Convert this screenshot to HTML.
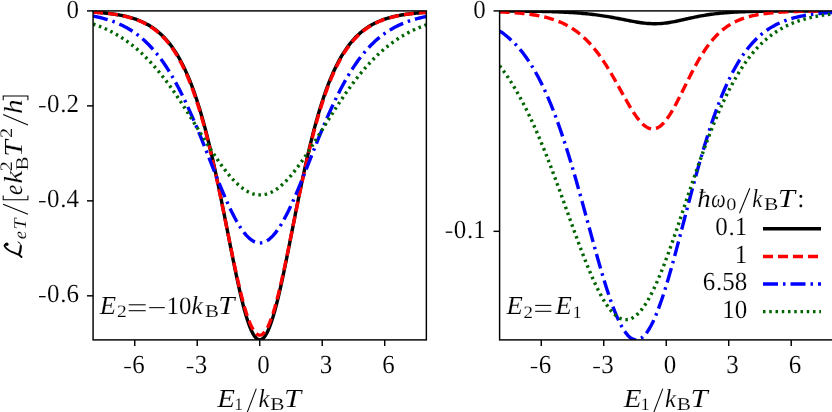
<!DOCTYPE html>
<html><head><meta charset="utf-8"><title>plot</title>
<style>html,body{margin:0;padding:0;background:#fff}svg{display:block;will-change:transform}text{font-family:"Liberation Serif",serif;fill:#000;text-rendering:geometricPrecision;stroke:#fff;stroke-width:0.14px}.i{font-style:italic}</style></head>
<body>
<svg width="832" height="412" viewBox="0 0 832 412">
<rect width="832" height="412" fill="#fff"/>
<defs><clipPath id="cl"><rect x="93.08" y="10.90" width="333.28" height="329.00"/></clipPath><clipPath id="cr"><rect x="499.60" y="10.90" width="333.28" height="329.00"/></clipPath></defs>
<g clip-path="url(#cl)" fill="none" stroke-width="3.40" stroke-linejoin="round">
<path d="M93.08,12.10 L94.75,12.20 L96.41,12.32 L98.08,12.44 L99.75,12.57 L101.41,12.71 L103.08,12.86 L104.74,13.02 L106.41,13.19 L108.08,13.37 L109.74,13.57 L111.41,13.78 L113.08,14.01 L114.74,14.25 L116.41,14.51 L118.08,14.79 L119.74,15.08 L121.41,15.40 L123.08,15.74 L124.74,16.11 L126.41,16.49 L128.07,16.91 L129.74,17.36 L131.41,17.83 L133.07,18.34 L134.74,18.89 L136.41,19.47 L138.07,20.09 L139.74,20.75 L141.41,21.46 L143.07,22.22 L144.74,23.02 L146.40,23.89 L148.07,24.80 L149.74,25.78 L151.40,26.83 L153.07,27.94 L154.74,29.13 L156.40,30.39 L158.07,31.74 L159.74,33.17 L161.40,34.69 L163.07,36.31 L164.74,38.04 L166.40,39.87 L168.07,41.81 L169.73,43.88 L171.40,46.07 L173.07,48.39 L174.73,50.85 L176.40,53.46 L178.07,56.22 L179.73,59.15 L181.40,62.24 L183.07,65.51 L184.73,68.95 L186.40,72.59 L188.06,76.43 L189.73,80.46 L191.40,84.71 L193.06,89.18 L194.73,93.87 L196.40,98.78 L198.06,103.93 L199.73,109.32 L201.40,114.95 L203.06,120.82 L204.73,126.94 L206.40,133.29 L208.06,139.89 L209.73,146.73 L211.39,153.80 L213.06,161.09 L214.73,168.60 L216.39,176.30 L218.06,184.19 L219.73,192.25 L221.39,200.46 L223.06,208.78 L224.73,217.20 L226.39,225.67 L228.06,234.18 L229.72,242.67 L231.39,251.11 L233.06,259.45 L234.72,267.65 L236.39,275.65 L238.06,283.41 L239.72,290.88 L241.39,298.00 L243.06,304.72 L244.72,310.99 L246.39,316.75 L248.06,321.97 L249.72,326.59 L251.39,330.57 L253.05,333.88 L254.72,336.49 L256.39,338.38 L258.05,339.52 L259.72,339.90 L261.39,339.53 L263.05,338.40 L264.72,336.52 L266.39,333.92 L268.05,330.62 L269.72,326.64 L271.38,322.03 L273.05,316.83 L274.72,311.07 L276.38,304.81 L278.05,298.10 L279.72,290.99 L281.38,283.53 L283.05,275.77 L284.72,267.77 L286.38,259.58 L288.05,251.25 L289.72,242.81 L291.38,234.33 L293.05,225.83 L294.71,217.36 L296.38,208.95 L298.05,200.63 L299.71,192.43 L301.38,184.38 L303.05,176.49 L304.71,168.78 L306.38,161.28 L308.05,153.99 L309.71,146.93 L311.38,140.09 L313.04,133.50 L314.71,127.14 L316.38,121.03 L318.04,115.16 L319.71,109.53 L321.38,104.15 L323.04,99.00 L324.71,94.08 L326.38,89.40 L328.04,84.93 L329.71,80.69 L331.38,76.65 L333.04,72.81 L334.71,69.18 L336.37,65.73 L338.04,62.47 L339.71,59.38 L341.37,56.45 L343.04,53.69 L344.71,51.08 L346.37,48.62 L348.04,46.30 L349.71,44.11 L351.37,42.04 L353.04,40.10 L354.70,38.27 L356.37,36.55 L358.04,34.93 L359.70,33.40 L361.37,31.97 L363.04,30.63 L364.70,29.36 L366.37,28.18 L368.04,27.06 L369.70,26.02 L371.37,25.04 L373.04,24.12 L374.70,23.26 L376.37,22.45 L378.03,21.70 L379.70,20.99 L381.37,20.33 L383.03,19.70 L384.70,19.12 L386.37,18.58 L388.03,18.07 L389.70,17.59 L391.37,17.15 L393.03,16.73 L394.70,16.34 L396.36,15.98 L398.03,15.64 L399.70,15.32 L401.36,15.02 L403.03,14.74 L404.70,14.49 L406.36,14.24 L408.03,14.02 L409.70,13.81 L411.36,13.61 L413.03,13.42 L414.70,13.25 L416.36,13.09 L418.03,12.94 L419.69,12.80 L421.36,12.67 L423.03,12.55 L424.69,12.44 L426.36,12.33" stroke="#000000"/>
<path d="M93.08,12.14 L94.75,12.24 L96.41,12.36 L98.08,12.49 L99.75,12.62 L101.41,12.76 L103.08,12.92 L104.74,13.08 L106.41,13.26 L108.08,13.45 L109.74,13.65 L111.41,13.87 L113.08,14.10 L114.74,14.35 L116.41,14.62 L118.08,14.91 L119.74,15.21 L121.41,15.54 L123.08,15.89 L124.74,16.26 L126.41,16.66 L128.07,17.09 L129.74,17.55 L131.41,18.04 L133.07,18.56 L134.74,19.12 L136.41,19.72 L138.07,20.36 L139.74,21.04 L141.41,21.77 L143.07,22.54 L144.74,23.37 L146.40,24.25 L148.07,25.20 L149.74,26.20 L151.40,27.27 L153.07,28.41 L154.74,29.62 L156.40,30.92 L158.07,32.29 L159.74,33.76 L161.40,35.32 L163.07,36.97 L164.74,38.73 L166.40,40.60 L168.07,42.58 L169.73,44.69 L171.40,46.92 L173.07,49.28 L174.73,51.79 L176.40,54.45 L178.07,57.25 L179.73,60.22 L181.40,63.36 L183.07,66.67 L184.73,70.16 L186.40,73.85 L188.06,77.72 L189.73,81.80 L191.40,86.09 L193.06,90.59 L194.73,95.31 L196.40,100.26 L198.06,105.43 L199.73,110.83 L201.40,116.47 L203.06,122.34 L204.73,128.45 L206.40,134.79 L208.06,141.36 L209.73,148.15 L211.39,155.17 L213.06,162.39 L214.73,169.81 L216.39,177.41 L218.06,185.18 L219.73,193.09 L221.39,201.14 L223.06,209.28 L224.73,217.49 L226.39,225.75 L228.06,234.01 L229.72,242.24 L231.39,250.41 L233.06,258.46 L234.72,266.36 L236.39,274.05 L238.06,281.49 L239.72,288.64 L241.39,295.44 L243.06,301.85 L244.72,307.81 L246.39,313.29 L248.06,318.24 L249.72,322.61 L251.39,326.38 L253.05,329.52 L254.72,331.98 L256.39,333.76 L258.05,334.84 L259.72,335.20 L261.39,334.85 L263.05,333.78 L264.72,332.01 L266.39,329.55 L268.05,326.43 L269.72,322.67 L271.38,318.30 L273.05,313.36 L274.72,307.90 L276.38,301.94 L278.05,295.54 L279.72,288.75 L281.38,281.61 L283.05,274.17 L284.72,266.49 L286.38,258.60 L288.05,250.55 L289.72,242.39 L291.38,234.17 L293.05,225.91 L294.71,217.66 L296.38,209.45 L298.05,201.31 L299.71,193.27 L301.38,185.36 L303.05,177.60 L304.71,170.00 L306.38,162.58 L308.05,155.37 L309.71,148.36 L311.38,141.57 L313.04,135.00 L314.71,128.66 L316.38,122.56 L318.04,116.69 L319.71,111.05 L321.38,105.65 L323.04,100.48 L324.71,95.54 L326.38,90.82 L328.04,86.32 L329.71,82.03 L331.38,77.95 L333.04,74.08 L334.71,70.40 L336.37,66.90 L338.04,63.59 L339.71,60.46 L341.37,57.49 L343.04,54.68 L344.71,52.03 L346.37,49.52 L348.04,47.16 L349.71,44.93 L351.37,42.82 L353.04,40.84 L354.70,38.97 L356.37,37.21 L358.04,35.56 L359.70,34.00 L361.37,32.54 L363.04,31.16 L364.70,29.87 L366.37,28.65 L368.04,27.51 L369.70,26.44 L371.37,25.44 L373.04,24.50 L374.70,23.61 L376.37,22.79 L378.03,22.01 L379.70,21.28 L381.37,20.60 L383.03,19.96 L384.70,19.37 L386.37,18.81 L388.03,18.28 L389.70,17.80 L391.37,17.34 L393.03,16.91 L394.70,16.51 L396.36,16.13 L398.03,15.78 L399.70,15.46 L401.36,15.15 L403.03,14.86 L404.70,14.60 L406.36,14.35 L408.03,14.12 L409.70,13.90 L411.36,13.70 L413.03,13.51 L414.70,13.33 L416.36,13.16 L418.03,13.01 L419.69,12.87 L421.36,12.73 L423.03,12.61 L424.69,12.49 L426.36,12.38" stroke="#ff0000" stroke-dasharray="10 5"/>
<path d="M93.08,16.05 L94.75,16.38 L96.41,16.72 L98.08,17.09 L99.75,17.48 L101.41,17.89 L103.08,18.32 L104.74,18.77 L106.41,19.26 L108.08,19.77 L109.74,20.30 L111.41,20.87 L113.08,21.47 L114.74,22.10 L116.41,22.76 L118.08,23.46 L119.74,24.20 L121.41,24.97 L123.08,25.79 L124.74,26.64 L126.41,27.54 L128.07,28.48 L129.74,29.48 L131.41,30.52 L133.07,31.61 L134.74,32.75 L136.41,33.95 L138.07,35.20 L139.74,36.51 L141.41,37.89 L143.07,39.32 L144.74,40.82 L146.40,42.39 L148.07,44.02 L149.74,45.73 L151.40,47.50 L153.07,49.35 L154.74,51.28 L156.40,53.28 L158.07,55.36 L159.74,57.53 L161.40,59.77 L163.07,62.10 L164.74,64.51 L166.40,67.01 L168.07,69.60 L169.73,72.27 L171.40,75.03 L173.07,77.87 L174.73,80.81 L176.40,83.84 L178.07,86.95 L179.73,90.15 L181.40,93.43 L183.07,96.80 L184.73,100.25 L186.40,103.78 L188.06,107.40 L189.73,111.08 L191.40,114.84 L193.06,118.67 L194.73,122.57 L196.40,126.52 L198.06,130.53 L199.73,134.59 L201.40,138.70 L203.06,142.84 L204.73,147.02 L206.40,151.21 L208.06,155.43 L209.73,159.66 L211.39,163.89 L213.06,168.10 L214.73,172.31 L216.39,176.48 L218.06,180.62 L219.73,184.71 L221.39,188.75 L223.06,192.72 L224.73,196.61 L226.39,200.41 L228.06,204.12 L229.72,207.71 L231.39,211.19 L233.06,214.53 L234.72,217.73 L236.39,220.78 L238.06,223.67 L239.72,226.39 L241.39,228.93 L243.06,231.28 L244.72,233.43 L246.39,235.38 L248.06,237.12 L249.72,238.64 L251.39,239.94 L253.05,241.02 L254.72,241.86 L256.39,242.47 L258.05,242.84 L259.72,242.97 L261.39,242.87 L263.05,242.53 L264.72,241.95 L266.39,241.14 L268.05,240.09 L269.72,238.82 L271.38,237.33 L273.05,235.62 L274.72,233.70 L276.38,231.58 L278.05,229.25 L279.72,226.74 L281.38,224.05 L283.05,221.19 L284.72,218.16 L286.38,214.99 L288.05,211.67 L289.72,208.22 L291.38,204.64 L293.05,200.96 L294.71,197.18 L296.38,193.31 L298.05,189.36 L299.71,185.34 L301.38,181.27 L303.05,177.15 L304.71,172.99 L306.38,168.80 L308.05,164.60 L309.71,160.39 L311.38,156.17 L313.04,151.97 L314.71,147.78 L316.38,143.62 L318.04,139.48 L319.71,135.39 L321.38,131.34 L323.04,127.34 L324.71,123.39 L326.38,119.50 L328.04,115.68 L329.71,111.92 L331.38,108.24 L333.04,104.63 L334.71,101.10 L336.37,97.65 L338.04,94.29 L339.71,91.00 L341.37,87.80 L343.04,84.69 L344.71,81.67 L346.37,78.73 L348.04,75.88 L349.71,73.12 L351.37,70.45 L353.04,67.86 L354.70,65.36 L356.37,62.94 L358.04,60.61 L359.70,58.36 L361.37,56.19 L363.04,54.10 L364.70,52.09 L366.37,50.16 L368.04,48.31 L369.70,46.52 L371.37,44.81 L373.04,43.17 L374.70,41.60 L376.37,40.09 L378.03,38.65 L379.70,37.27 L381.37,35.94 L383.03,34.68 L384.70,33.47 L386.37,32.32 L388.03,31.22 L389.70,30.17 L391.37,29.17 L393.03,28.22 L394.70,27.31 L396.36,26.44 L398.03,25.62 L399.70,24.83 L401.36,24.09 L403.03,23.38 L404.70,22.70 L406.36,22.06 L408.03,21.46 L409.70,20.88 L411.36,20.33 L413.03,19.81 L414.70,19.32 L416.36,18.85 L418.03,18.40 L419.69,17.98 L421.36,17.58 L423.03,17.21 L424.69,16.85 L426.36,16.51" stroke="#0000ff" stroke-dasharray="15 5 2.5 5"/>
<path d="M93.08,23.95 L94.75,24.53 L96.41,25.14 L98.08,25.77 L99.75,26.42 L101.41,27.09 L103.08,27.80 L104.74,28.53 L106.41,29.29 L108.08,30.08 L109.74,30.89 L111.41,31.74 L113.08,32.62 L114.74,33.53 L116.41,34.47 L118.08,35.45 L119.74,36.46 L121.41,37.50 L123.08,38.59 L124.74,39.71 L126.41,40.86 L128.07,42.06 L129.74,43.29 L131.41,44.57 L133.07,45.88 L134.74,47.24 L136.41,48.63 L138.07,50.07 L139.74,51.56 L141.41,53.08 L143.07,54.65 L144.74,56.27 L146.40,57.92 L148.07,59.63 L149.74,61.38 L151.40,63.17 L153.07,65.01 L154.74,66.89 L156.40,68.82 L158.07,70.80 L159.74,72.82 L161.40,74.88 L163.07,76.99 L164.74,79.14 L166.40,81.34 L168.07,83.57 L169.73,85.85 L171.40,88.17 L173.07,90.52 L174.73,92.91 L176.40,95.34 L178.07,97.81 L179.73,100.30 L181.40,102.83 L183.07,105.38 L184.73,107.96 L186.40,110.56 L188.06,113.19 L189.73,115.83 L191.40,118.49 L193.06,121.17 L194.73,123.85 L196.40,126.54 L198.06,129.23 L199.73,131.93 L201.40,134.62 L203.06,137.30 L204.73,139.97 L206.40,142.63 L208.06,145.26 L209.73,147.87 L211.39,150.46 L213.06,153.01 L214.73,155.53 L216.39,158.01 L218.06,160.44 L219.73,162.82 L221.39,165.15 L223.06,167.42 L224.73,169.63 L226.39,171.77 L228.06,173.84 L229.72,175.83 L231.39,177.75 L233.06,179.58 L234.72,181.32 L236.39,182.97 L238.06,184.53 L239.72,185.99 L241.39,187.35 L243.06,188.60 L244.72,189.75 L246.39,190.79 L248.06,191.71 L249.72,192.52 L251.39,193.22 L253.05,193.79 L254.72,194.25 L256.39,194.59 L258.05,194.80 L259.72,194.90 L261.39,194.87 L263.05,194.73 L264.72,194.46 L266.39,194.07 L268.05,193.56 L269.72,192.93 L271.38,192.19 L273.05,191.33 L274.72,190.36 L276.38,189.28 L278.05,188.09 L279.72,186.79 L281.38,185.39 L283.05,183.89 L284.72,182.30 L286.38,180.61 L288.05,178.84 L289.72,176.97 L291.38,175.03 L293.05,173.01 L294.71,170.92 L296.38,168.76 L298.05,166.53 L299.71,164.25 L301.38,161.91 L303.05,159.51 L304.71,157.07 L306.38,154.59 L308.05,152.07 L309.71,149.52 L311.38,146.93 L313.04,144.32 L314.71,141.69 L316.38,139.04 L318.04,136.38 L319.71,133.71 L321.38,131.03 L323.04,128.35 L324.71,125.68 L326.38,123.00 L328.04,120.34 L329.71,117.69 L331.38,115.05 L333.04,112.43 L334.71,109.83 L336.37,107.25 L338.04,104.69 L339.71,102.16 L341.37,99.67 L343.04,97.20 L344.71,94.76 L346.37,92.36 L348.04,90.00 L349.71,87.67 L351.37,85.38 L353.04,83.13 L354.70,80.93 L356.37,78.76 L358.04,76.64 L359.70,74.56 L361.37,72.52 L363.04,70.53 L364.70,68.58 L366.37,66.67 L368.04,64.81 L369.70,63.00 L371.37,61.23 L373.04,59.50 L374.70,57.82 L376.37,56.19 L378.03,54.59 L379.70,53.04 L381.37,51.54 L383.03,50.07 L384.70,48.65 L386.37,47.27 L388.03,45.93 L389.70,44.63 L391.37,43.38 L393.03,42.16 L394.70,40.97 L396.36,39.83 L398.03,38.72 L399.70,37.65 L401.36,36.62 L403.03,35.62 L404.70,34.65 L406.36,33.71 L408.03,32.81 L409.70,31.94 L411.36,31.10 L413.03,30.29 L414.70,29.51 L416.36,28.75 L418.03,28.02 L419.69,27.32 L421.36,26.65 L423.03,26.00 L424.69,25.38 L426.36,24.77" stroke="#006400" stroke-dasharray="2.5 3.75"/>
</g>
<g clip-path="url(#cr)" fill="none" stroke-width="3.40" stroke-linejoin="round">
<path d="M499.60,10.99 L501.27,11.00 L502.93,11.01 L504.60,11.02 L506.27,11.02 L507.93,11.03 L509.60,11.04 L511.26,11.05 L512.93,11.06 L514.60,11.08 L516.26,11.09 L517.93,11.10 L519.60,11.12 L521.26,11.13 L522.93,11.15 L524.60,11.17 L526.26,11.18 L527.93,11.20 L529.60,11.23 L531.26,11.25 L532.93,11.27 L534.59,11.30 L536.26,11.33 L537.93,11.36 L539.59,11.39 L541.26,11.42 L542.93,11.46 L544.59,11.49 L546.26,11.54 L547.93,11.58 L549.59,11.62 L551.26,11.67 L552.92,11.73 L554.59,11.78 L556.26,11.84 L557.92,11.90 L559.59,11.97 L561.26,12.04 L562.92,12.11 L564.59,12.19 L566.26,12.28 L567.92,12.37 L569.59,12.46 L571.26,12.56 L572.92,12.67 L574.59,12.78 L576.25,12.90 L577.92,13.02 L579.59,13.15 L581.25,13.29 L582.92,13.44 L584.59,13.59 L586.25,13.75 L587.92,13.92 L589.59,14.10 L591.25,14.28 L592.92,14.48 L594.58,14.68 L596.25,14.90 L597.92,15.12 L599.58,15.35 L601.25,15.59 L602.92,15.84 L604.58,16.10 L606.25,16.37 L607.92,16.64 L609.58,16.93 L611.25,17.22 L612.92,17.52 L614.58,17.83 L616.25,18.15 L617.91,18.47 L619.58,18.79 L621.25,19.12 L622.91,19.45 L624.58,19.78 L626.25,20.11 L627.91,20.43 L629.58,20.76 L631.25,21.07 L632.91,21.38 L634.58,21.68 L636.24,21.97 L637.91,22.24 L639.58,22.50 L641.24,22.74 L642.91,22.95 L644.58,23.15 L646.24,23.32 L647.91,23.46 L649.58,23.57 L651.24,23.65 L652.91,23.71 L654.58,23.73 L656.24,23.71 L657.91,23.67 L659.57,23.59 L661.24,23.48 L662.91,23.34 L664.57,23.16 L666.24,22.96 L667.91,22.73 L669.57,22.47 L671.24,22.19 L672.91,21.89 L674.57,21.57 L676.24,21.23 L677.90,20.89 L679.57,20.53 L681.24,20.16 L682.90,19.78 L684.57,19.41 L686.24,19.03 L687.90,18.65 L689.57,18.28 L691.24,17.91 L692.90,17.55 L694.57,17.20 L696.24,16.85 L697.90,16.52 L699.57,16.20 L701.23,15.89 L702.90,15.59 L704.57,15.30 L706.23,15.03 L707.90,14.77 L709.57,14.52 L711.23,14.29 L712.90,14.06 L714.57,13.85 L716.23,13.65 L717.90,13.47 L719.56,13.29 L721.23,13.12 L722.90,12.97 L724.56,12.82 L726.23,12.69 L727.90,12.56 L729.56,12.44 L731.23,12.33 L732.90,12.23 L734.56,12.13 L736.23,12.04 L737.90,11.96 L739.56,11.88 L741.23,11.81 L742.89,11.74 L744.56,11.68 L746.23,11.62 L747.89,11.57 L749.56,11.52 L751.23,11.47 L752.89,11.43 L754.56,11.39 L756.23,11.35 L757.89,11.32 L759.56,11.29 L761.22,11.26 L762.89,11.23 L764.56,11.20 L766.22,11.18 L767.89,11.16 L769.56,11.14 L771.22,11.12 L772.89,11.10 L774.56,11.09 L776.22,11.07 L777.89,11.06 L779.56,11.05 L781.22,11.04 L782.89,11.03 L784.55,11.02 L786.22,11.01 L787.89,11.00 L789.55,10.99 L791.22,10.99 L792.89,10.98 L794.55,10.97 L796.22,10.97 L797.89,10.96 L799.55,10.96 L801.22,10.95 L802.88,10.95 L804.55,10.95 L806.22,10.94 L807.88,10.94 L809.55,10.94 L811.22,10.93 L812.88,10.93 L814.55,10.93 L816.22,10.93 L817.88,10.92 L819.55,10.92 L821.22,10.92 L822.88,10.92 L824.55,10.92 L826.21,10.92 L827.88,10.91 L829.55,10.91 L831.21,10.91 L832.88,10.91" stroke="#000000"/>
<path d="M499.60,11.87 L501.27,11.94 L502.93,12.02 L504.60,12.10 L506.27,12.18 L507.93,12.28 L509.60,12.37 L511.26,12.48 L512.93,12.59 L514.60,12.71 L516.26,12.84 L517.93,12.98 L519.60,13.13 L521.26,13.28 L522.93,13.45 L524.60,13.63 L526.26,13.82 L527.93,14.03 L529.60,14.25 L531.26,14.48 L532.93,14.73 L534.59,15.00 L536.26,15.28 L537.93,15.58 L539.59,15.91 L541.26,16.25 L542.93,16.61 L544.59,17.00 L546.26,17.42 L547.93,17.86 L549.59,18.33 L551.26,18.83 L552.92,19.36 L554.59,19.92 L556.26,20.52 L557.92,21.16 L559.59,21.83 L561.26,22.55 L562.92,23.31 L564.59,24.11 L566.26,24.97 L567.92,25.87 L569.59,26.82 L571.26,27.83 L572.92,28.90 L574.59,30.02 L576.25,31.21 L577.92,32.46 L579.59,33.78 L581.25,35.17 L582.92,36.63 L584.59,38.17 L586.25,39.77 L587.92,41.46 L589.59,43.23 L591.25,45.08 L592.92,47.01 L594.58,49.02 L596.25,51.12 L597.92,53.30 L599.58,55.57 L601.25,57.92 L602.92,60.35 L604.58,62.86 L606.25,65.45 L607.92,68.11 L609.58,70.84 L611.25,73.64 L612.92,76.49 L614.58,79.39 L616.25,82.34 L617.91,85.31 L619.58,88.31 L621.25,91.32 L622.91,94.33 L624.58,97.31 L626.25,100.27 L627.91,103.18 L629.58,106.03 L631.25,108.79 L632.91,111.45 L634.58,113.99 L636.24,116.40 L637.91,118.64 L639.58,120.71 L641.24,122.59 L642.91,124.25 L644.58,125.69 L646.24,126.89 L647.91,127.83 L649.58,128.50 L651.24,128.90 L652.91,129.01 L654.58,128.84 L656.24,128.39 L657.91,127.64 L659.57,126.62 L661.24,125.31 L662.91,123.75 L664.57,121.93 L666.24,119.87 L667.91,117.59 L669.57,115.10 L671.24,112.43 L672.91,109.60 L674.57,106.62 L676.24,103.52 L677.90,100.32 L679.57,97.05 L681.24,93.72 L682.90,90.35 L684.57,86.97 L686.24,83.59 L687.90,80.23 L689.57,76.91 L691.24,73.64 L692.90,70.43 L694.57,67.30 L696.24,64.25 L697.90,61.29 L699.57,58.42 L701.23,55.66 L702.90,53.01 L704.57,50.47 L706.23,48.04 L707.90,45.72 L709.57,43.51 L711.23,41.42 L712.90,39.43 L714.57,37.55 L716.23,35.77 L717.90,34.09 L719.56,32.52 L721.23,31.03 L722.90,29.64 L724.56,28.33 L726.23,27.10 L727.90,25.96 L729.56,24.89 L731.23,23.88 L732.90,22.95 L734.56,22.08 L736.23,21.27 L737.90,20.51 L739.56,19.81 L741.23,19.15 L742.89,18.54 L744.56,17.98 L746.23,17.45 L747.89,16.96 L749.56,16.51 L751.23,16.09 L752.89,15.70 L754.56,15.34 L756.23,15.01 L757.89,14.70 L759.56,14.41 L761.22,14.15 L762.89,13.90 L764.56,13.67 L766.22,13.46 L767.89,13.27 L769.56,13.09 L771.22,12.92 L772.89,12.77 L774.56,12.63 L776.22,12.49 L777.89,12.37 L779.56,12.26 L781.22,12.16 L782.89,12.06 L784.55,11.97 L786.22,11.89 L787.89,11.81 L789.55,11.74 L791.22,11.68 L792.89,11.62 L794.55,11.56 L796.22,11.51 L797.89,11.47 L799.55,11.42 L801.22,11.38 L802.88,11.35 L804.55,11.31 L806.22,11.28 L807.88,11.25 L809.55,11.22 L811.22,11.20 L812.88,11.18 L814.55,11.15 L816.22,11.14 L817.88,11.12 L819.55,11.10 L821.22,11.09 L822.88,11.07 L824.55,11.06 L826.21,11.05 L827.88,11.03 L829.55,11.02 L831.21,11.01 L832.88,11.01" stroke="#ff0000" stroke-dasharray="10 5"/>
<path d="M499.60,30.91 L501.27,32.04 L502.93,33.23 L504.60,34.49 L506.27,35.80 L507.93,37.19 L509.60,38.64 L511.26,40.16 L512.93,41.76 L514.60,43.43 L516.26,45.18 L517.93,47.02 L519.60,48.94 L521.26,50.95 L522.93,53.05 L524.60,55.24 L526.26,57.54 L527.93,59.93 L529.60,62.43 L531.26,65.03 L532.93,67.74 L534.59,70.56 L536.26,73.49 L537.93,76.54 L539.59,79.71 L541.26,83.00 L542.93,86.41 L544.59,89.95 L546.26,93.61 L547.93,97.41 L549.59,101.32 L551.26,105.37 L552.92,109.55 L554.59,113.86 L556.26,118.29 L557.92,122.86 L559.59,127.55 L561.26,132.36 L562.92,137.30 L564.59,142.37 L566.26,147.54 L567.92,152.84 L569.59,158.24 L571.26,163.74 L572.92,169.35 L574.59,175.04 L576.25,180.82 L577.92,186.68 L579.59,192.60 L581.25,198.59 L582.92,204.62 L584.59,210.69 L586.25,216.79 L587.92,222.91 L589.59,229.03 L591.25,235.13 L592.92,241.22 L594.58,247.26 L596.25,253.25 L597.92,259.17 L599.58,265.01 L601.25,270.74 L602.92,276.36 L604.58,281.84 L606.25,287.17 L607.92,292.33 L609.58,297.30 L611.25,302.08 L612.92,306.64 L614.58,310.96 L616.25,315.03 L617.91,318.84 L619.58,322.38 L621.25,325.61 L622.91,328.55 L624.58,331.17 L626.25,333.46 L627.91,335.42 L629.58,337.03 L631.25,338.29 L632.91,339.19 L634.58,339.73 L636.24,339.90 L637.91,339.71 L639.58,339.15 L641.24,338.22 L642.91,336.94 L644.58,335.29 L646.24,333.29 L647.91,330.95 L649.58,328.27 L651.24,325.26 L652.91,321.93 L654.58,318.30 L656.24,314.37 L657.91,310.17 L659.57,305.71 L661.24,300.99 L662.91,296.05 L664.57,290.88 L666.24,285.52 L667.91,279.98 L669.57,274.28 L671.24,268.43 L672.91,262.45 L674.57,256.36 L676.24,250.18 L677.90,243.92 L679.57,237.61 L681.24,231.25 L682.90,224.87 L684.57,218.48 L686.24,212.09 L687.90,205.71 L689.57,199.37 L691.24,193.08 L692.90,186.84 L694.57,180.67 L696.24,174.58 L697.90,168.57 L699.57,162.66 L701.23,156.86 L702.90,151.16 L704.57,145.59 L706.23,140.13 L707.90,134.81 L709.57,129.62 L711.23,124.57 L712.90,119.65 L714.57,114.87 L716.23,110.24 L717.90,105.75 L719.56,101.41 L721.23,97.21 L722.90,93.16 L724.56,89.25 L726.23,85.48 L727.90,81.85 L729.56,78.36 L731.23,75.00 L732.90,71.78 L734.56,68.70 L736.23,65.74 L737.90,62.90 L739.56,60.19 L741.23,57.60 L742.89,55.12 L744.56,52.76 L746.23,50.50 L747.89,48.35 L749.56,46.30 L751.23,44.35 L752.89,42.50 L754.56,40.73 L756.23,39.05 L757.89,37.46 L759.56,35.95 L761.22,34.52 L762.89,33.16 L764.56,31.87 L766.22,30.65 L767.89,29.50 L769.56,28.40 L771.22,27.37 L772.89,26.39 L774.56,25.47 L776.22,24.60 L777.89,23.77 L779.56,23.00 L781.22,22.26 L782.89,21.57 L784.55,20.92 L786.22,20.30 L787.89,19.72 L789.55,19.18 L791.22,18.67 L792.89,18.18 L794.55,17.73 L796.22,17.30 L797.89,16.90 L799.55,16.52 L801.22,16.17 L802.88,15.83 L804.55,15.52 L806.22,15.23 L807.88,14.95 L809.55,14.69 L811.22,14.45 L812.88,14.22 L814.55,14.00 L816.22,13.80 L817.88,13.62 L819.55,13.44 L821.22,13.27 L822.88,13.12 L824.55,12.97 L826.21,12.84 L827.88,12.71 L829.55,12.59 L831.21,12.48 L832.88,12.38" stroke="#0000ff" stroke-dasharray="15 5 2.5 5"/>
<path d="M499.60,65.76 L501.27,67.93 L502.93,70.16 L504.60,72.46 L506.27,74.84 L507.93,77.29 L509.60,79.81 L511.26,82.41 L512.93,85.08 L514.60,87.84 L516.26,90.67 L517.93,93.58 L519.60,96.57 L521.26,99.63 L522.93,102.78 L524.60,106.01 L526.26,109.32 L527.93,112.70 L529.60,116.17 L531.26,119.71 L532.93,123.34 L534.59,127.03 L536.26,130.81 L537.93,134.66 L539.59,138.58 L541.26,142.57 L542.93,146.63 L544.59,150.76 L546.26,154.95 L547.93,159.20 L549.59,163.51 L551.26,167.87 L552.92,172.29 L554.59,176.75 L556.26,181.25 L557.92,185.79 L559.59,190.36 L561.26,194.96 L562.92,199.59 L564.59,204.23 L566.26,208.88 L567.92,213.53 L569.59,218.18 L571.26,222.82 L572.92,227.45 L574.59,232.05 L576.25,236.62 L577.92,241.15 L579.59,245.64 L581.25,250.07 L582.92,254.43 L584.59,258.73 L586.25,262.94 L587.92,267.07 L589.59,271.10 L591.25,275.03 L592.92,278.84 L594.58,282.53 L596.25,286.08 L597.92,289.50 L599.58,292.78 L601.25,295.89 L602.92,298.85 L604.58,301.63 L606.25,304.24 L607.92,306.67 L609.58,308.90 L611.25,310.94 L612.92,312.77 L614.58,314.40 L616.25,315.82 L617.91,317.02 L619.58,318.00 L621.25,318.76 L622.91,319.29 L624.58,319.60 L626.25,319.67 L627.91,319.52 L629.58,319.13 L631.25,318.52 L632.91,317.67 L634.58,316.60 L636.24,315.30 L637.91,313.78 L639.58,312.05 L641.24,310.09 L642.91,307.92 L644.58,305.55 L646.24,302.98 L647.91,300.21 L649.58,297.25 L651.24,294.12 L652.91,290.80 L654.58,287.32 L656.24,283.68 L657.91,279.89 L659.57,275.96 L661.24,271.89 L662.91,267.70 L664.57,263.39 L666.24,258.97 L667.91,254.46 L669.57,249.85 L671.24,245.17 L672.91,240.41 L674.57,235.60 L676.24,230.73 L677.90,225.82 L679.57,220.87 L681.24,215.90 L682.90,210.91 L684.57,205.91 L686.24,200.91 L687.90,195.92 L689.57,190.94 L691.24,185.97 L692.90,181.04 L694.57,176.14 L696.24,171.28 L697.90,166.47 L699.57,161.71 L701.23,157.01 L702.90,152.36 L704.57,147.79 L706.23,143.28 L707.90,138.85 L709.57,134.49 L711.23,130.21 L712.90,126.02 L714.57,121.91 L716.23,117.90 L717.90,113.97 L719.56,110.13 L721.23,106.38 L722.90,102.73 L724.56,99.17 L726.23,95.71 L727.90,92.34 L729.56,89.07 L731.23,85.89 L732.90,82.81 L734.56,79.82 L736.23,76.92 L737.90,74.12 L739.56,71.41 L741.23,68.79 L742.89,66.25 L744.56,63.81 L746.23,61.45 L747.89,59.18 L749.56,56.99 L751.23,54.88 L752.89,52.85 L754.56,50.90 L756.23,49.02 L757.89,47.22 L759.56,45.49 L761.22,43.83 L762.89,42.24 L764.56,40.71 L766.22,39.25 L767.89,37.85 L769.56,36.51 L771.22,35.23 L772.89,34.01 L774.56,32.84 L776.22,31.72 L777.89,30.65 L779.56,29.63 L781.22,28.66 L782.89,27.74 L784.55,26.85 L786.22,26.01 L787.89,25.21 L789.55,24.45 L791.22,23.72 L792.89,23.03 L794.55,22.38 L796.22,21.75 L797.89,21.16 L799.55,20.60 L801.22,20.06 L802.88,19.56 L804.55,19.08 L806.22,18.62 L807.88,18.19 L809.55,17.78 L811.22,17.39 L812.88,17.02 L814.55,16.67 L816.22,16.34 L817.88,16.03 L819.55,15.74 L821.22,15.46 L822.88,15.19 L824.55,14.94 L826.21,14.71 L827.88,14.48 L829.55,14.27 L831.21,14.08 L832.88,13.89" stroke="#006400" stroke-dasharray="2.5 3.75"/>
</g>
<g fill="none" stroke="#000" stroke-width="1.45" stroke-linecap="square">
<rect x="93.08" y="10.90" width="333.28" height="329.00"/>
<rect x="499.60" y="10.90" width="333.28" height="329.00"/>
</g>
<g stroke="#000" stroke-width="1.45">
<line x1="134.74" y1="339.90" x2="134.74" y2="346.00"/>
<line x1="197.23" y1="339.90" x2="197.23" y2="346.00"/>
<line x1="259.72" y1="339.90" x2="259.72" y2="346.00"/>
<line x1="322.21" y1="339.90" x2="322.21" y2="346.00"/>
<line x1="384.70" y1="339.90" x2="384.70" y2="346.00"/>
<line x1="541.26" y1="339.90" x2="541.26" y2="346.00"/>
<line x1="603.75" y1="339.90" x2="603.75" y2="346.00"/>
<line x1="666.24" y1="339.90" x2="666.24" y2="346.00"/>
<line x1="728.73" y1="339.90" x2="728.73" y2="346.00"/>
<line x1="791.22" y1="339.90" x2="791.22" y2="346.00"/>
<line x1="86.98" y1="10.90" x2="93.08" y2="10.90"/>
<line x1="86.98" y1="105.88" x2="93.08" y2="105.88"/>
<line x1="86.98" y1="200.86" x2="93.08" y2="200.86"/>
<line x1="86.98" y1="295.83" x2="93.08" y2="295.83"/>
<line x1="493.50" y1="10.90" x2="499.60" y2="10.90"/>
<line x1="493.50" y1="231.33" x2="499.60" y2="231.33"/>
</g>
<text transform="matrix(1 0 0 1.045 132.29 373.30)" font-size="25">6</text>
<path d="M124.26,367.55 H130.86" stroke="#000" stroke-width="1.3" fill="none"/>
<text transform="matrix(1 0 0 1.045 194.78 373.30)" font-size="25">3</text>
<path d="M186.75,367.55 H193.35" stroke="#000" stroke-width="1.3" fill="none"/>
<text transform="matrix(1 0 0 1.045 257.27 373.30)" font-size="25">0</text>
<text transform="matrix(1 0 0 1.045 319.76 373.30)" font-size="25">3</text>
<text transform="matrix(1 0 0 1.045 382.25 373.30)" font-size="25">6</text>
<text transform="matrix(1 0 0 1.045 538.81 373.30)" font-size="25">6</text>
<path d="M530.78,367.55 H537.38" stroke="#000" stroke-width="1.3" fill="none"/>
<text transform="matrix(1 0 0 1.045 601.30 373.30)" font-size="25">3</text>
<path d="M593.27,367.55 H599.87" stroke="#000" stroke-width="1.3" fill="none"/>
<text transform="matrix(1 0 0 1.045 663.79 373.30)" font-size="25">0</text>
<text transform="matrix(1 0 0 1.045 726.28 373.30)" font-size="25">3</text>
<text transform="matrix(1 0 0 1.045 788.77 373.30)" font-size="25">6</text>
<text transform="matrix(1 0 0 1.045 66.50 17.50)" font-size="25">0</text>
<text transform="matrix(1 0 0 1.045 66.50 112.48)" font-size="25">2</text>
<text x="60.26" y="112.18" font-size="25">.</text>
<text transform="matrix(1 0 0 1.045 47.05 112.48)" font-size="25">0</text>
<path d="M39.02,106.73 H45.62" stroke="#000" stroke-width="1.3" fill="none"/>
<text transform="matrix(1 0 0 1.045 66.50 207.46)" font-size="25">4</text>
<text x="60.26" y="207.16" font-size="25">.</text>
<text transform="matrix(1 0 0 1.045 47.05 207.46)" font-size="25">0</text>
<path d="M39.02,201.71 H45.62" stroke="#000" stroke-width="1.3" fill="none"/>
<text transform="matrix(1 0 0 1.045 66.50 302.43)" font-size="25">6</text>
<text x="60.26" y="302.13" font-size="25">.</text>
<text transform="matrix(1 0 0 1.045 47.05 302.43)" font-size="25">0</text>
<path d="M39.02,296.68 H45.62" stroke="#000" stroke-width="1.3" fill="none"/>
<text transform="matrix(1 0 0 1.045 473.20 17.50)" font-size="25">0</text>
<text transform="matrix(1 0 0 1.045 473.20 237.93)" font-size="25">1</text>
<text x="466.95" y="237.63" font-size="25">.</text>
<text transform="matrix(1 0 0 1.045 453.75 237.93)" font-size="25">0</text>
<path d="M445.72,232.18 H452.32" stroke="#000" stroke-width="1.3" fill="none"/>
<text transform="matrix(1.1162 0 0 1.0000 217.24 407.30)" font-size="26" class="i">E</text>
<text x="234.16" y="410.20" font-size="17.5" stroke="none">1</text>
<path d="M246.80,413.55 L256.30,388.60" stroke="#000" stroke-width="1.05" fill="none"/>
<text transform="matrix(0.9488 0 0 1.0000 258.39 407.30)" font-size="26" class="i">k</text>
<text transform="matrix(1.1877 0 0 1.0000 270.28 410.20)" font-size="18" stroke="none">B</text>
<text transform="matrix(1.1822 0 0 1.0000 283.99 407.30)" font-size="26" class="i">T</text>
<text transform="matrix(1.1162 0 0 1.0000 623.76 407.30)" font-size="26" class="i">E</text>
<text x="640.68" y="410.20" font-size="17.5" stroke="none">1</text>
<path d="M653.32,413.55 L662.82,388.60" stroke="#000" stroke-width="1.05" fill="none"/>
<text transform="matrix(0.9488 0 0 1.0000 664.91 407.30)" font-size="26" class="i">k</text>
<text transform="matrix(1.1877 0 0 1.0000 676.80 410.20)" font-size="18" stroke="none">B</text>
<text transform="matrix(1.1822 0 0 1.0000 690.51 407.30)" font-size="26" class="i">T</text>
<text transform="matrix(1.0274 0 0 1.0000 99.71 313.90)" font-size="26" class="i">E</text>
<text transform="matrix(1.1118 0 0 1.0000 116.94 317.40)" font-size="17.5" stroke="none">2</text>
<path d="M128.70,304.80 L145.70,304.80" stroke="#000" stroke-width="1.05" fill="none"/>
<path d="M128.70,310.70 L145.70,310.70" stroke="#000" stroke-width="1.05" fill="none"/>
<path d="M149.20,307.65 L164.80,307.65" stroke="#000" stroke-width="1.05" fill="none"/>
<text x="166.50" y="313.90" font-size="25">1</text>
<text transform="matrix(0.9910 0 0 1.0000 178.96 313.90)" font-size="25">0</text>
<text transform="matrix(0.9846 0 0 1.0000 191.46 313.90)" font-size="26" class="i">k</text>
<text transform="matrix(1.1595 0 0 1.0000 204.90 317.40)" font-size="18" stroke="none">B</text>
<text transform="matrix(1.1193 0 0 1.0000 218.20 313.90)" font-size="26" class="i">T</text>
<text transform="matrix(1.0274 0 0 1.0000 506.61 314.40)" font-size="26" class="i">E</text>
<text transform="matrix(1.0833 0 0 1.0000 523.47 318.10)" font-size="17.5" stroke="none">2</text>
<path d="M535.20,305.40 L551.30,305.40" stroke="#000" stroke-width="1.05" fill="none"/>
<path d="M535.20,311.30 L551.30,311.30" stroke="#000" stroke-width="1.05" fill="none"/>
<text transform="matrix(1.0274 0 0 1.0000 555.61 314.40)" font-size="26" class="i">E</text>
<text x="572.76" y="318.10" font-size="17.5" stroke="none">1</text>
<text transform="matrix(1.0290 0 0 1.0000 697.23 207.00)" font-size="26" class="i">ħ</text>
<text transform="matrix(0.7828 0 0 1.0000 711.32 207.00)" font-size="26" class="i">ω</text>
<text transform="matrix(1.1595 0 0 1.0000 726.23 210.20)" font-size="17.5" stroke="none">0</text>
<path d="M739.50,213.25 L749.80,188.30" stroke="#000" stroke-width="1.05" fill="none"/>
<text transform="matrix(0.8772 0 0 1.0000 752.14 207.00)" font-size="26" class="i">k</text>
<text transform="matrix(1.1972 0 0 1.0000 763.88 210.20)" font-size="18" stroke="none">B</text>
<text transform="matrix(1.1892 0 0 1.0000 777.78 207.00)" font-size="26" class="i">T</text>
<text x="797.34" y="207.00" font-size="26">:</text>
<text transform="matrix(1 0 0 1.045 734.70 234.90)" font-size="25">1</text>
<text x="728.46" y="234.60" font-size="25">.</text>
<text transform="matrix(1 0 0 1.045 715.25 234.90)" font-size="25">0</text>
<text transform="matrix(1 0 0 1.045 734.70 262.50)" font-size="25">1</text>
<text transform="matrix(1 0 0 1.045 734.70 290.10)" font-size="25">8</text>
<text transform="matrix(1 0 0 1.045 722.20 290.10)" font-size="25">5</text>
<text x="715.96" y="289.80" font-size="25">.</text>
<text transform="matrix(1 0 0 1.045 702.75 290.10)" font-size="25">6</text>
<text transform="matrix(1 0 0 1.045 734.70 317.70)" font-size="25">0</text>
<text transform="matrix(1 0 0 1.045 722.20 317.70)" font-size="25">1</text>
<g fill="none" stroke-width="3.40">
<path d="M763.0,228.80 H821.0" stroke="#000000"/>
<path d="M763.0,256.50 H821.0" stroke="#ff0000" stroke-dasharray="10 5"/>
<path d="M763.0,284.00 H821.0" stroke="#0000ff" stroke-dasharray="15 5 2.5 5"/>
<path d="M763.0,311.60 H821.0" stroke="#006400" stroke-dasharray="2.5 3.75"/>
</g>
<g transform="translate(21.8,257.8) rotate(-90)">
<path d="M13.9,-15.3 C13.6,-17.0 12.4,-17.5 11.4,-17.0 C9.4,-15.9 7.2,-13.0 5.6,-9.4 C4.6,-7 3.8,-4.6 3.0,-2.7 L0.8,-0.3" fill="none" stroke="#000" stroke-width="1.85" stroke-linecap="round"/>
<circle cx="13.5" cy="-15.0" r="1.75" fill="#000"/>
<path d="M2.8,-2.9 C5.6,-1.7 9,-0.9 12.3,-0.9" fill="none" stroke="#000" stroke-width="2.2"/>
<path d="M11.8,-0.9 C13.9,-0.9 15,-2 15.8,-3.7" fill="none" stroke="#000" stroke-width="1.0" stroke-linecap="round"/>
<text transform="matrix(1.0382 0 0 1.0000 18.53 4.30)" font-size="18" class="i" stroke="none">e</text>
<text transform="matrix(1.1014 0 0 1.0000 28.20 4.30)" font-size="18" class="i" stroke="none">T</text>
<path d="M43.50,6.25 L53.60,-18.70" stroke="#000" stroke-width="1.05" fill="none"/>
<path d="M62.3,6.1 H58.0 V-18.6 H62.3" fill="none" stroke="#000" stroke-width="1.05"/>
<text transform="matrix(0.8960 0 0 1.0000 62.78 0.00)" font-size="26" class="i">e</text>
<text transform="matrix(1.1189 0 0 1.0000 74.26 0.00)" font-size="26" class="i">k</text>
<text transform="matrix(1.1404 0 0 1.0000 86.52 -9.70)" font-size="17.5" stroke="none">2</text>
<text transform="matrix(1.1783 0 0 1.0000 87.39 6.40)" font-size="18" stroke="none">B</text>
<text transform="matrix(1.1473 0 0 1.0000 100.95 0.00)" font-size="26" class="i">T</text>
<text transform="matrix(1.1546 0 0 1.0000 119.81 -9.70)" font-size="17.5" stroke="none">2</text>
<path d="M132.80,6.25 L143.20,-18.70" stroke="#000" stroke-width="1.05" fill="none"/>
<text transform="matrix(1.0928 0 0 1.0000 143.97 0.00)" font-size="26" class="i">h</text>
<path d="M157.6,6.1 H161.9 V-18.6 H157.6" fill="none" stroke="#000" stroke-width="1.05"/>
</g>
</svg></body></html>
